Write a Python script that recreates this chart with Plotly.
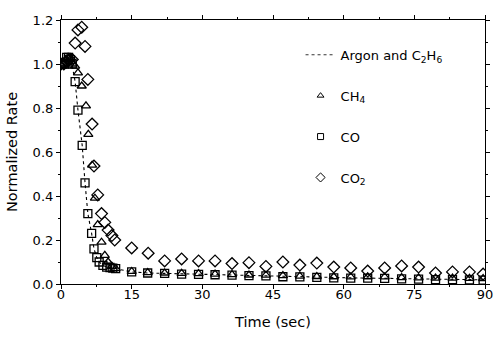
import plotly.graph_objects as go

# ---- data ----
argon_t = [0, 1.0, 2.0, 2.4, 3.0, 3.6, 4.5, 5.1, 5.7, 6.5, 7.0, 7.6, 8.1, 8.9, 9.7, 10.4, 11.0, 11.6,
           15.0, 18.4, 22.0, 25.6, 29.2, 32.7, 36.3, 39.9, 43.5, 47.1, 50.7, 54.3, 57.9, 61.5,
           65.1, 68.7, 72.3, 75.9, 79.5, 83.1, 86.7, 89.6]
argon_v = [1.0, 1.0, 1.0, 0.99, 0.92, 0.79, 0.63, 0.46, 0.32, 0.23, 0.16, 0.12, 0.10, 0.085, 0.077, 0.075, 0.072, 0.07,
           0.055, 0.05, 0.048, 0.045, 0.044, 0.042, 0.04, 0.038, 0.037, 0.034, 0.032, 0.03, 0.029, 0.028,
           0.027, 0.026, 0.024, 0.023, 0.021, 0.021, 0.02, 0.019]

ch4_t = [0, 0.5, 1.0, 1.5, 2.0, 2.5, 3.0, 3.6, 4.4, 5.3, 5.8, 6.6, 7.2, 7.8, 8.6, 9.3, 10.0, 10.8, 11.6,
         15.0, 18.4, 22.0, 25.6, 29.2, 32.7, 36.3, 39.9, 43.5, 47.1, 50.7, 54.3, 57.9, 61.5,
         65.1, 68.7, 72.3, 75.9, 79.5, 83.1, 86.7, 89.6]
ch4_v = [1.0, 1.0, 1.02, 1.03, 1.02, 1.0, 0.99, 0.96, 0.90, 0.81, 0.68, 0.54, 0.39, 0.27, 0.19, 0.13, 0.10, 0.08, 0.07,
         0.057, 0.052, 0.05, 0.048, 0.047, 0.045, 0.043, 0.041, 0.04, 0.038, 0.036, 0.034, 0.033, 0.032,
         0.033, 0.032, 0.029, 0.028, 0.027, 0.027, 0.026, 0.025]

co_t = [0, 0.4, 0.8, 1.2, 1.6, 2.0, 2.4, 3.0, 3.6, 4.5, 5.1, 5.7, 6.5, 7.0, 7.6, 8.1, 8.9, 9.7, 10.4, 11.0, 11.6,
        15.0, 18.4, 22.0, 25.6, 29.2, 32.7, 36.3, 39.9, 43.5, 47.1, 50.7, 54.3, 57.9, 61.5,
        65.1, 68.7, 72.3, 75.9, 79.5, 83.1, 86.7, 89.6]
co_v = [1.0, 1.0, 1.0, 1.03, 1.03, 1.02, 1.0, 0.92, 0.79, 0.63, 0.46, 0.32, 0.23, 0.16, 0.12, 0.10, 0.085, 0.077, 0.075, 0.072, 0.07,
        0.055, 0.05, 0.048, 0.045, 0.044, 0.042, 0.04, 0.038, 0.037, 0.033, 0.032, 0.03, 0.028, 0.027,
        0.027, 0.026, 0.023, 0.022, 0.02, 0.02, 0.019, 0.018]

co2_t = [0, 0.6, 1.2, 1.8, 2.4, 3.0, 3.6, 4.4, 5.1, 5.7, 6.6, 7.0, 7.8, 8.6, 9.3, 10.0, 10.8, 11.4,
         15.0, 18.5, 22.0, 25.6, 29.2, 32.7, 36.3, 39.9, 43.5, 47.1, 50.7, 54.3, 57.9, 61.5,
         65.1, 68.7, 72.3, 75.9, 79.5, 83.1, 86.7, 89.6]
co2_v = [1.0, 1.0, 1.01, 1.02, 1.02, 1.095, 1.155, 1.167, 1.08, 0.93, 0.727, 0.536, 0.405, 0.32, 0.28, 0.245, 0.22, 0.20,
         0.164, 0.14, 0.105, 0.114, 0.105, 0.105, 0.093, 0.097, 0.08, 0.10, 0.086, 0.095, 0.077, 0.073,
         0.059, 0.073, 0.082, 0.077, 0.05, 0.055, 0.055, 0.045]

x_ticks = [0, 15, 30, 45, 60, 75, 90]
y_ticks = [0.0, 0.2, 0.4, 0.6, 0.8, 1.0, 1.2]

FONT = "DejaVu Sans"
FS = 13
FT = 14.5
mk_line = dict(color="black", width=1.3)

fig = go.Figure()
fig.add_trace(go.Scatter(x=argon_t, y=argon_v, mode="lines", showlegend=False,
                         line=dict(color="black", width=1.1, dash="dot")))
fig.add_trace(go.Scatter(x=ch4_t, y=ch4_v, mode="markers", showlegend=False,
                         marker=dict(symbol="triangle-up-open", size=8, color="black", line=mk_line)))
fig.add_trace(go.Scatter(x=co_t, y=co_v, mode="markers", showlegend=False,
                         marker=dict(symbol="square-open", size=8, color="black", line=mk_line)))
fig.add_trace(go.Scatter(x=co2_t, y=co2_v, mode="markers", showlegend=False,
                         marker=dict(symbol="diamond-open", size=9, color="black", line=mk_line)))

# legend-only entries (small symbols as in the reference key)
fig.add_trace(go.Scatter(x=[None], y=[None], mode="lines", name="Argon and C<sub>2</sub>H<sub>6</sub>",
                         legendgroup="a", line=dict(color="black", width=0.8, dash="dot")))
fig.add_trace(go.Scatter(x=[None], y=[None], mode="markers", name="CH<sub>4</sub>", legendgroup="b",
                         marker=dict(symbol="triangle-up-open", size=6, color="black", line=dict(color="black", width=1))))
fig.add_trace(go.Scatter(x=[None], y=[None], mode="markers", name="CO", legendgroup="c",
                         marker=dict(symbol="square-open", size=6, color="black", line=dict(color="black", width=1))))
fig.add_trace(go.Scatter(x=[None], y=[None], mode="markers", name="CO<sub>2</sub>", legendgroup="d",
                         marker=dict(symbol="diamond-open", size=7, color="black", line=dict(color="black", width=1))))

axis_common = dict(showline=True, linecolor="black", linewidth=1.2, mirror="ticks",
                   ticks="outside", ticklen=4, tickcolor="black", tickwidth=1,
                   showgrid=False, zeroline=False, automargin=False,
                   ticklabeloverflow="allow",
                   tickfont=dict(family=FONT, size=FS, color="black"))

fig.update_xaxes(range=[0, 90], tickvals=x_ticks, ticktext=[str(v) for v in x_ticks],
                 minor=dict(dtick=7.5, ticklen=2, ticks="outside", tickcolor="black"),
                 ticklabelstandoff=-6,
                 title=dict(text="Time (sec)", font=dict(family=FONT, size=FT, color="black"), standoff=16),
                 **axis_common)
fig.update_yaxes(range=[0, 1.2], tickvals=y_ticks, ticktext=[f"{v:.1f}" for v in y_ticks],
                 minor=dict(dtick=0.1, ticklen=2, ticks="outside", tickcolor="black"),
                 title=dict(text="Normalized Rate", font=dict(family=FONT, size=FT, color="black"), standoff=11),
                 **axis_common)

fig.update_layout(
    width=493, height=341,
    margin=dict(l=61, r=8, t=20, b=57),
    plot_bgcolor="white", paper_bgcolor="white",
    font=dict(family=FONT, size=FS, color="black"),
    legend=dict(x=0.565, y=0.925, xanchor="left", yanchor="top", bgcolor="rgba(0,0,0,0)",
                tracegroupgap=21, itemsizing="trace", font=dict(family=FONT, size=FS)),
)

# remove the browser's default 8px body margin so the figure fills the window exactly
fig.write_html("out.html", config={"displayModeBar": False},
               post_script="document.body.style.margin='0';document.body.style.overflow='hidden';")
